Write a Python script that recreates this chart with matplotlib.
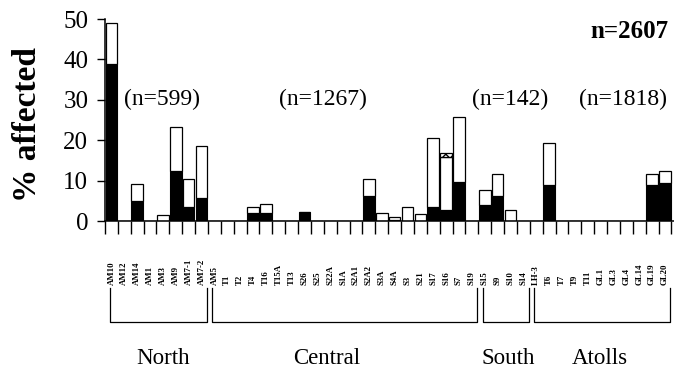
import matplotlib
matplotlib.use("Agg")
import matplotlib.pyplot as plt
from matplotlib.transforms import blended_transform_factory

plt.rcParams["font.family"] = ["Liberation Serif", "DejaVu Serif"]

# Sites, grouped by region
north = ["AM10", "AM12", "AM14", "AM1", "AM3", "AM9", "AM7-1", "AM7-2"]
central = ["AM5", "T1", "T2", "T4", "T16", "T15A", "T13", "S26", "S25", "S22A", "S1A",
           "S2A1", "S2A2", "S3A", "S4A", "S3", "S21", "S17", "S16", "S7", "S19"]
south = ["S15", "S9", "S10", "S14"]
atolls = ["LH-3", "T6", "T7", "T9", "T11", "GL1", "GL3", "GL4", "GL14", "GL19", "GL20"]
sites = north + central + south + atolls

# Percent of colonies affected per site (black = lower segment, white = upper segment)
black_pct = [38.9, 0, 5.0, 0, 0, 12.4, 3.5, 5.6,
             0, 0, 0, 2.1, 2.1, 0, 0, 2.2, 0, 0, 0, 0, 6.3, 0, 0.3, 0, 0, 3.4, 2.7, 9.6, 0,
             4.0, 6.2, 0, 0,
             0, 8.9, 0, 0, 0, 0, 0, 0, 0, 8.9, 9.5]
white_pct = [10.2, 0, 4.1, 0, 1.5, 10.9, 6.9, 13.0,
             0, 0, 0, 1.4, 2.1, 0, 0, 0, 0, 0, 0, 0, 4.0, 2.1, 0.6, 3.5, 1.7, 17.1, 13.1, 16.2, 0,
             3.7, 5.4, 2.7, 0,
             0, 10.3, 0, 0, 0, 0, 0, 0, 0, 2.7, 2.9]
hatched_pct = [0] * 26 + [1.1] + [0] * 17

group_names = ["North", "Central", "South", "Atolls"]
group_n = ["(n=599)", "(n=1267)", "(n=142)", "(n=1818)"]
total_n = "n=2607"

W, H = 674, 378
fig = plt.figure(figsize=(W / 100, H / 100), dpi=100)
ax = fig.add_axes([105 / W, 1 - 221 / H, 1 - 105 / W, (221 - 19) / H])

x = list(range(len(sites)))
ax.bar(x, black_pct, width=0.9, color="black", edgecolor="black", linewidth=0.8)
ax.bar(x, white_pct, width=0.9, bottom=black_pct, color="white",
       edgecolor="black", linewidth=0.9)
hb = [b + w for b, w in zip(black_pct, white_pct)]
for xi, h, b in zip(x, hatched_pct, hb):
    if h > 0:
        ax.bar(xi, h, width=0.9, bottom=b, color="white", edgecolor="black",
               linewidth=0.9, hatch="xxxx")

ax.set_xlim(-0.5, 43.7)
ax.set_ylim(0, 50)
ax.set_yticks(range(0, 51, 10))
ax.set_xticks([i - 0.5 for i in range(len(sites) + 1)])
ax.set_xticklabels([])
ax.tick_params(axis="y", direction="out", length=6, width=1, pad=6, labelsize=18)
ax.tick_params(axis="x", direction="out", length=9, width=1)
for s in ("top", "right"):
    ax.spines[s].set_visible(False)
ax.spines["left"].set_linewidth(1.1)
ax.spines["bottom"].set_linewidth(1.1)

fig.text(28 / W, 1 - 124 / H, "% affected", rotation=90, ha="center", va="center",
         fontsize=24, fontweight="bold")

# Sample sizes per region
n_x = [3.93, 16.4, 31.0, 39.7]
for xi, t in zip(n_x, group_n):
    ax.text(xi, 30, t, ha="center", va="center", fontsize=17)
ax.text(43.25, 46.8, total_n, ha="right", va="center", fontsize=18, fontweight="bold")

# Site labels, brackets and region names below the axis
tr = blended_transform_factory(ax.transData, fig.transFigure)
for xi, s in zip(x, sites):
    ax.text(xi, 1 - 285 / H, s, transform=tr, rotation=90, ha="center", va="bottom",
            fontsize=6.3, fontweight="bold", clip_on=False)

sizes = [len(north), len(central), len(south), len(atolls)]
starts = [0]
for n in sizes[:-1]:
    starts.append(starts[-1] + n)
y_top, y_bot = 1 - 288 / H, 1 - 322 / H
for st, n in zip(starts, sizes):
    lo = st - 0.5 + 0.35
    hi = st + n - 0.5 - 0.08
    ax.plot([lo, lo, hi, hi], [y_top, y_bot, y_bot, y_top], transform=tr,
            color="black", lw=0.9, clip_on=False)

name_x = [4.0, 16.75, 30.8, 37.96]
for xi, t in zip(name_x, group_names):
    ax.text(xi, 1 - 358 / H, t, transform=tr, ha="center", va="center", fontsize=16.5)

fig.savefig("out.png", dpi=100)
